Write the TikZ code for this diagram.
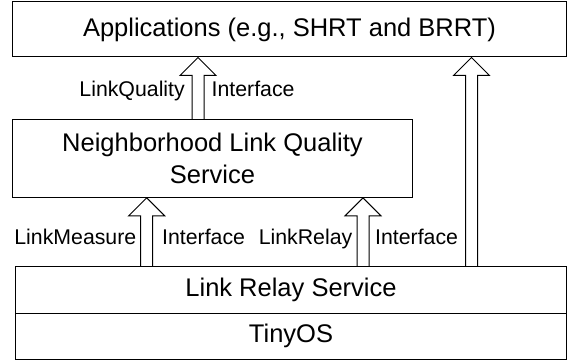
\documentclass[tikz,border=0pt]{standalone}
\usepackage{fontspec}
\setmainfont{Liberation Sans}
\usetikzlibrary{calc}
\tikzset{
  layer/.style={draw=black, line width=1pt, fill=white, inner sep=0pt, align=center,
    font=\fontsize{25.5}{32}\selectfont},
  iface/.style={draw=black, line width=1pt, line join=miter},
  tag/.style={inner sep=0pt, font=\fontsize{21.3}{25}\selectfont},
}
% hollow interface arrow: #1 = foot on the lower layer, #2 = tip on the upper layer
\newcommand\hollowarrow[2]{%
  \draw[iface] ($(#1)+(-6,0)$) -- ($(#2)+(-6,18)$) -- ($(#2)+(-18,18)$) -- (#2)
    -- ($(#2)+(18,18)$) -- ($(#2)+(6,18)$) -- ($(#1)+(6,0)$);}

\begin{document}
\begin{tikzpicture}[x=1pt,y=-1pt]
\useasboundingbox (0,0) rectangle (567,363);

% layers
\node[layer, minimum width=554.4pt, minimum height=55pt] (apps) at (289.5,29.5)
  {Applications (e.g., SHRT and BRRT)};
\node[layer, minimum width=400.4pt, minimum height=78pt] (nlq) at (212.5,158.3)
  {Neighborhood Link Quality\\Service};
\node[layer, minimum width=551.4pt, minimum height=46.3pt] (lrs) at (291,289.85)
  {Link Relay Service};
\node[layer, minimum width=551.4pt, minimum height=46pt] (tos) at (291,336)
  {TinyOS};

% arrow columns
\coordinate (xq) at (198,0);
\coordinate (xr) at (471.5,0);
\coordinate (xm) at (146.7,0);
\coordinate (xl) at (363,0);

\hollowarrow{nlq.north -| xq}{apps.south -| xq}
\hollowarrow{lrs.north -| xr}{apps.south -| xr}
\hollowarrow{lrs.north -| xm}{nlq.south -| xm}
\hollowarrow{lrs.north -| xl}{nlq.south -| xl}

% interface labels
\node[tag, anchor=base east] (lq) at (185,96.5) {LinkQuality};
\node[tag, anchor=base west] (lqi) at (211.5,96.5) {Interface};
\node[tag, anchor=base east] (lm) at (136.5,244.3) {LinkMeasure};
\node[tag, anchor=base west] (lmi) at (162,244.3) {Interface};
\node[tag, anchor=base east] (lr) at (352.5,244.3) {LinkRelay};
\node[tag, anchor=base west] (lri) at (375,244.3) {Interface};
\end{tikzpicture}
\end{document}
